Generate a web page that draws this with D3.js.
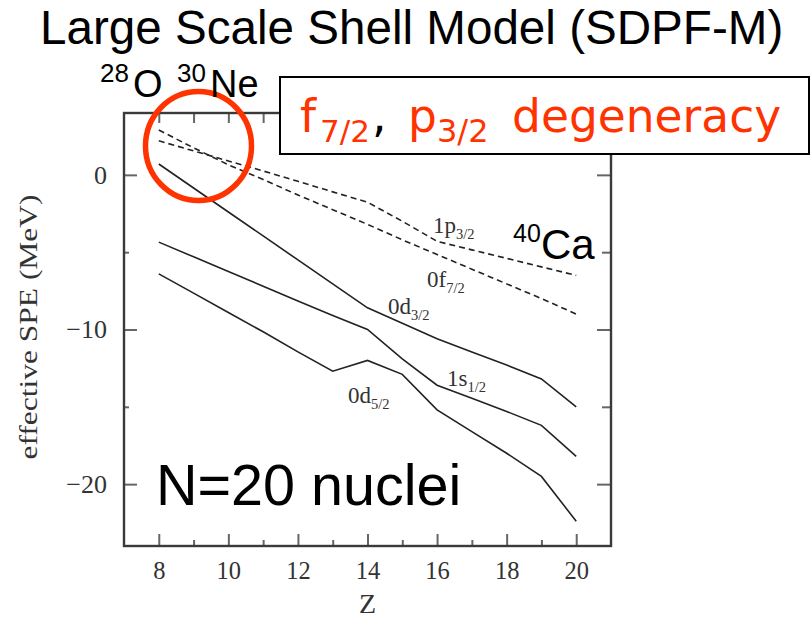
<!DOCTYPE html>
<html>
<head>
<meta charset="utf-8">
<script src="https://cdn.jsdelivr.net/npm/d3@7"></script>
<style>
  html, body { margin: 0; padding: 0; background: #fff; }
  svg { display: block; }
</style>
</head>
<body>
<svg id="chart" width="811" height="620"></svg>
<script>
// Proton number Z for the N=20 isotones
const zValues = [8, 9, 10, 11, 12, 13, 14, 15, 16, 17, 18, 19, 20];

// Effective single-particle energies (MeV), SDPF-M interaction
const p32 = [2.2, 1.55, 0.9, 0.25, -0.42, -1.1, -1.77, -3.0, -4.3, -4.85, -5.4, -5.95, -6.5];
const f72 = [2.9, 1.75, 0.65, -0.3, -1.3, -2.25, -3.2, -4.2, -5.15, -6.1, -7.05, -8.0, -9.0];
const d32 = [0.7, -0.85, -2.4, -3.95, -5.5, -7.05, -8.6, -9.6, -10.6, -11.45, -12.3, -13.2, -15.0];
const s12 = [-4.35, -5.3, -6.25, -7.2, -8.15, -9.1, -10.0, -11.9, -13.6, -14.45, -15.3, -16.2, -18.2];
const d52 = [-6.4, -7.65, -8.9, -10.15, -11.45, -12.7, -12.0, -12.9, -15.2, -16.6, -18.0, -19.5, -22.4];

// Axis ticks
const xMajorTicks = [8, 10, 12, 14, 16, 18, 20];
const xMinorTicks = [9, 11, 13, 15, 17, 19];
const xTopTicks = [8, 9, 10, 11, 12, 13, 14, 15, 16, 17, 18, 19, 20];
const yMajorTicks = [0, -10, -20];
const yMinorTicks = [-5, -15];

const orbitals = [
  { name: "1p", sub: "3/2", values: p32, dashed: true,  lx: 433, ly: 233 },
  { name: "0f", sub: "7/2", values: f72, dashed: true,  lx: 427, ly: 287 },
  { name: "0d", sub: "3/2", values: d32, dashed: false, lx: 388, ly: 314 },
  { name: "1s", sub: "1/2", values: s12, dashed: false, lx: 447, ly: 386 },
  { name: "0d", sub: "5/2", values: d52, dashed: false, lx: 348, ly: 403 }
];

const svg = d3.select("#chart");
const plot = { left: 124, right: 611, top: 113, bottom: 546 };

const x = d3.scaleLinear().domain([7, 21]).range([plot.left, plot.right]);
const y = d3.scaleLinear().domain([-24, 4]).range([plot.bottom, plot.top]);

const serif = "'Liberation Serif', 'Times New Roman', serif";
const sans = "'Liberation Sans', Arial, Helvetica, sans-serif";

// ---- axes (ticks point inward) ----
function styleAxis(g) {
  g.select(".domain").remove();
  g.selectAll(".tick line").attr("stroke", "#666").attr("stroke-width", 2);
  g.selectAll(".tick text").attr("fill", "#333").attr("font-family", serif);
}

svg.append("g")
  .attr("transform", `translate(0,${plot.bottom})`)
  .call(d3.axisBottom(x).tickValues(xMajorTicks).tickSize(-12).tickSizeOuter(0).tickPadding(16).tickFormat(d3.format("d")))
  .call(styleAxis)
  .call(g => g.selectAll(".tick text").attr("font-size", 24.5));

svg.append("g")
  .attr("transform", `translate(0,${plot.bottom})`)
  .call(d3.axisBottom(x).tickValues(xMinorTicks).tickSize(-6).tickSizeOuter(0).tickFormat(""))
  .call(styleAxis);

svg.append("g")
  .attr("transform", `translate(0,${plot.top})`)
  .call(d3.axisTop(x).tickValues(xTopTicks).tickSize(-10).tickSizeOuter(0).tickFormat(""))
  .call(styleAxis);

svg.append("g")
  .attr("transform", `translate(${plot.left},0)`)
  .call(d3.axisLeft(y).tickValues(yMajorTicks).tickSize(-13).tickSizeOuter(0).tickPadding(17).tickFormat(d3.format("d")))
  .call(styleAxis)
  .call(g => g.selectAll(".tick text").attr("font-size", 26));

svg.append("g")
  .attr("transform", `translate(${plot.left},0)`)
  .call(d3.axisLeft(y).tickValues(yMinorTicks).tickSize(-5).tickSizeOuter(0).tickFormat(""))
  .call(styleAxis);

svg.append("g")
  .attr("transform", `translate(${plot.right},0)`)
  .call(d3.axisRight(y).tickValues(yMajorTicks).tickSize(-14).tickSizeOuter(0).tickFormat(""))
  .call(styleAxis);

svg.append("g")
  .attr("transform", `translate(${plot.right},0)`)
  .call(d3.axisRight(y).tickValues(yMinorTicks).tickSize(-9).tickSizeOuter(0).tickFormat(""))
  .call(styleAxis);

// frame
svg.append("rect")
  .attr("x", plot.left).attr("y", plot.top)
  .attr("width", plot.right - plot.left).attr("height", plot.bottom - plot.top)
  .attr("fill", "none").attr("stroke", "#3a3a3a").attr("stroke-width", 2.4);

// axis titles
svg.append("text")
  .attr("x", x(14)).attr("y", 613)
  .attr("text-anchor", "middle")
  .attr("font-family", serif).attr("font-size", 28).attr("fill", "#333")
  .text("Z");

svg.append("text")
  .attr("transform", "translate(37,327) rotate(-90)")
  .attr("text-anchor", "middle")
  .attr("font-family", serif).attr("font-size", 26).attr("fill", "#333")
  .attr("textLength", 265).attr("lengthAdjust", "spacingAndGlyphs")
  .text("effective SPE (MeV)");

// ---- orbital lines ----
const line = d3.line()
  .x((d, i) => x(zValues[i]))
  .y(d => y(d));

svg.append("g").selectAll("path")
  .data(orbitals)
  .join("path")
  .attr("d", d => line(d.values))
  .attr("fill", "none")
  .attr("stroke", "#222")
  .attr("stroke-width", 1.6)
  .attr("stroke-dasharray", d => d.dashed ? "6,4" : null);

const labels = svg.append("g").selectAll("text")
  .data(orbitals)
  .join("text")
  .attr("x", d => d.lx).attr("y", d => d.ly)
  .attr("font-family", serif).attr("font-size", 23).attr("fill", "#333");
labels.append("tspan").text(d => d.name);
labels.append("tspan").attr("font-size", 14.5).attr("dy", 6).text(d => d.sub);

// ---- annotations ----
svg.append("ellipse")
  .attr("cx", 198.5).attr("cy", 146)
  .attr("rx", 53).attr("ry", 54.5)
  .attr("fill", "none").attr("stroke", "#ff3300").attr("stroke-width", 5.5);

svg.append("text")
  .attr("x", 40).attr("y", 44)
  .attr("font-family", sans).attr("font-size", 47.6).attr("fill", "#000")
  .text("Large Scale Shell Model (SDPF-M)");

// nuclei markers
const nuc = svg.append("text").attr("font-family", sans).attr("fill", "#000");
nuc.append("tspan").attr("x", 100).attr("y", 82).attr("font-size", 26).text("28");
nuc.append("tspan").attr("x", 133).attr("y", 97).attr("font-size", 38).text("O");
nuc.append("tspan").attr("x", 177).attr("y", 82).attr("font-size", 26).text("30");
nuc.append("tspan").attr("x", 210).attr("y", 97).attr("font-size", 38).text("Ne");

const ca = svg.append("text").attr("font-family", sans).attr("fill", "#000");
ca.append("tspan").attr("x", 513).attr("y", 242).attr("font-size", 25).text("40");
ca.append("tspan").attr("x", 541).attr("y", 259).attr("font-size", 42).text("Ca");

svg.append("text")
  .attr("x", 156).attr("y", 505)
  .attr("font-family", sans).attr("font-size", 57.5).attr("fill", "#000")
  .text("N=20 nuclei");

// degeneracy callout box
svg.append("rect")
  .attr("x", 280).attr("y", 77).attr("width", 529).attr("height", 77)
  .attr("fill", "#fff").attr("stroke", "#000").attr("stroke-width", 2);

const deg = svg.append("text")
  .attr("font-family", "'DejaVu Sans', Verdana, sans-serif").attr("fill", "#ff3300");
deg.append("tspan").attr("x", 300).attr("y", 132).attr("font-size", 45.5).text("f");
deg.append("tspan").attr("x", 320).attr("y", 142).attr("font-size", 31).text("7/2");
deg.append("tspan").attr("x", 372).attr("y", 132).attr("font-size", 45.5).attr("fill", "#000").text(",");
deg.append("tspan").attr("x", 408).attr("y", 132).attr("font-size", 45.5).text("p");
deg.append("tspan").attr("x", 437).attr("y", 142).attr("font-size", 32).text("3/2");
deg.append("tspan").attr("x", 512).attr("y", 132).attr("font-size", 45.5).text("degeneracy");
</script>
</body>
</html>
